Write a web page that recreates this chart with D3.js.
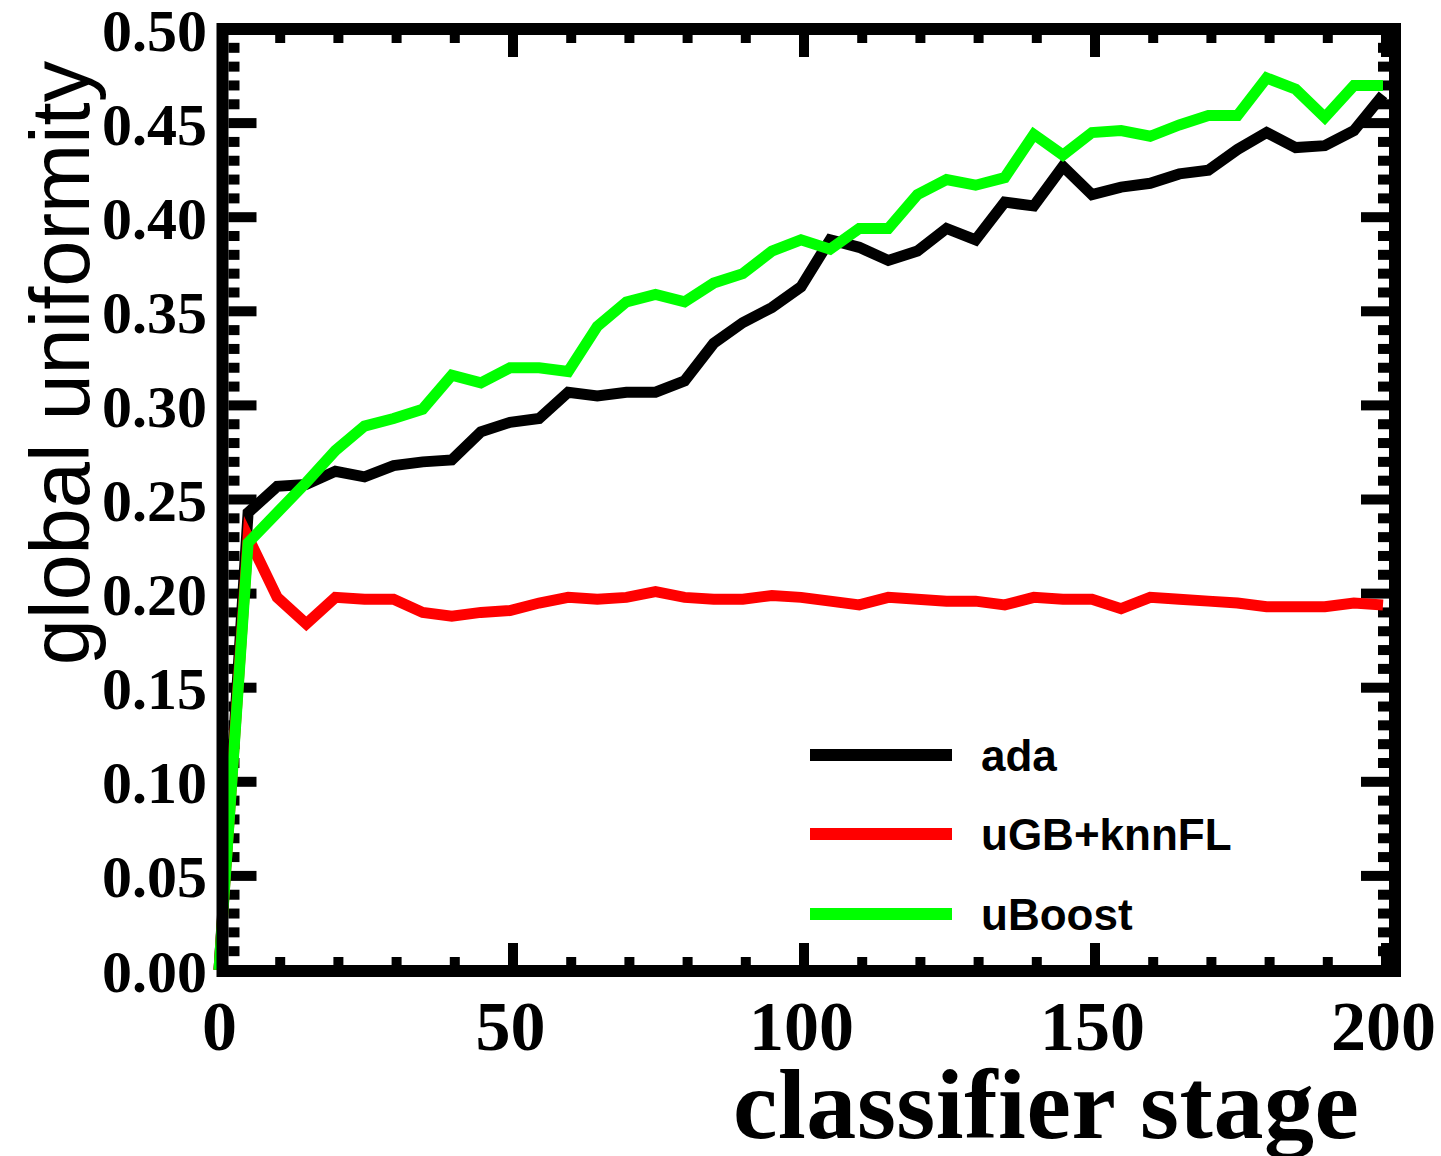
<!DOCTYPE html>
<html>
<head>
<meta charset="utf-8">
<script src="https://cdn.jsdelivr.net/npm/d3@7"></script>
<style>
  html, body { margin: 0; padding: 0; background: #fff; }
  svg { display: block; }
</style>
</head>
<body>
<svg id="chart" width="1441" height="1156"></svg>
<script>
// Classifier stage (boosting iteration) sampled every 5 stages
const stages = [0, 5, 10, 15, 20, 25, 30, 35, 40, 45, 50, 55, 60, 65, 70, 75, 80, 85, 90, 95, 100,
                105, 110, 115, 120, 125, 130, 135, 140, 145, 150, 155, 160, 165, 170, 175, 180, 185, 190, 195, 200];

// Global uniformity per classifier
const ada = [0, 0.243, 0.257, 0.258, 0.265, 0.262, 0.268, 0.270, 0.271, 0.286, 0.291, 0.293, 0.307, 0.305,
             0.307, 0.307, 0.313, 0.333, 0.344, 0.352, 0.363, 0.388, 0.384, 0.377, 0.382, 0.394, 0.388, 0.408,
             0.406, 0.427, 0.412, 0.416, 0.418, 0.423, 0.425, 0.436, 0.445, 0.437, 0.438, 0.446, 0.465];
const ugbKnnFL = [0, 0.230, 0.198, 0.184, 0.198, 0.197, 0.197, 0.190, 0.188, 0.190, 0.191, 0.195, 0.198, 0.197,
                  0.198, 0.201, 0.198, 0.197, 0.197, 0.199, 0.198, 0.196, 0.194, 0.198, 0.197, 0.196, 0.196, 0.194,
                  0.198, 0.197, 0.197, 0.192, 0.198, 0.197, 0.196, 0.195, 0.193, 0.193, 0.193, 0.195, 0.194];
const uBoost = [0, 0.227, 0.243, 0.259, 0.276, 0.289, 0.293, 0.298, 0.316, 0.312, 0.320, 0.320, 0.318, 0.342,
                0.355, 0.359, 0.355, 0.365, 0.370, 0.382, 0.388, 0.383, 0.394, 0.394, 0.412, 0.420, 0.417, 0.421,
                0.444, 0.433, 0.445, 0.446, 0.443, 0.449, 0.454, 0.454, 0.474, 0.468, 0.453, 0.470, 0.470];

const seriesNames = ["ada", "uGB+knnFL", "uBoost"];
const seriesColors = ["#000000", "#ff0000", "#00ff00"];
const xTickValues = [0, 50, 100, 150, 200];
const yTickValues = [0, 0.05, 0.10, 0.15, 0.20, 0.25, 0.30, 0.35, 0.40, 0.45, 0.50];

const svg = d3.select("#chart");

const x = d3.scaleLinear().domain([0, 200]).range([219, 1383]);
const y = d3.scaleLinear().domain([0, 0.5]).range([970, 29]);

const frame = { left: 222.5, right: 1395, top: 29, bottom: 971, width: 12 };

// Tick marks (thick, inside the frame on all four sides)
const ticksG = svg.append("g").attr("stroke", "#000").attr("stroke-width", 10);
const inner = frame.width / 2;

// horizontal axis ticks every 10 stages
x.ticks(20).forEach(v => {
  const major = v % 50 === 0;
  const len = major ? 22 : 8;
  const px = x(v) + 3;
  ticksG.append("line").attr("x1", px).attr("x2", px)
    .attr("y1", frame.bottom - inner).attr("y2", frame.bottom - inner - len);
  ticksG.append("line").attr("x1", px).attr("x2", px)
    .attr("y1", frame.top + inner).attr("y2", frame.top + inner + len);
});

// vertical axis ticks every 0.01
y.ticks(50).forEach(v => {
  const major = Math.abs(Math.round(v * 100) % 5) === 0;
  const len = major ? 28 : 11;
  const py = y(v);
  ticksG.append("line").attr("y1", py).attr("y2", py)
    .attr("x1", frame.left + inner).attr("x2", frame.left + inner + len);
  ticksG.append("line").attr("y1", py).attr("y2", py)
    .attr("x1", frame.right - inner).attr("x2", frame.right - inner - len);
});

// Series lines
const line = d3.line().x((d, i) => x(stages[i])).y(d => y(d));
const allSeries = [ada, ugbKnnFL, uBoost];
svg.append("g").selectAll("path")
  .data(allSeries)
  .join("path")
  .attr("d", d => line(d))
  .attr("fill", "none")
  .attr("stroke", (d, i) => seriesColors[i])
  .attr("stroke-width", 11)
  .attr("stroke-linejoin", "miter")
  .attr("stroke-linecap", "butt");

// Frame box
svg.append("rect")
  .attr("x", frame.left).attr("y", frame.top)
  .attr("width", frame.right - frame.left).attr("height", frame.bottom - frame.top)
  .attr("fill", "none").attr("stroke", "#000").attr("stroke-width", frame.width);

// Axis labels
const yAxis = d3.axisLeft(y).tickValues(yTickValues).tickFormat(d3.format(".2f")).tickSize(0).tickPadding(0);
const yAxisG = svg.append("g").attr("transform", "translate(207,0)").call(yAxis);
yAxisG.select(".domain").remove();
yAxisG.selectAll("text")
  .attr("font-family", "'Liberation Serif', 'Times New Roman', serif")
  .attr("font-weight", "bold").attr("font-size", 60)
  .attr("fill", "#000").attr("dy", 21);

const xAxis = d3.axisBottom(x).tickValues(xTickValues).tickFormat(d3.format("d")).tickSize(0).tickPadding(0);
const xAxisG = svg.append("g").attr("transform", "translate(0,1050)").call(xAxis);
xAxisG.select(".domain").remove();
xAxisG.selectAll("text")
  .attr("font-family", "'Liberation Serif', 'Times New Roman', serif")
  .attr("font-weight", "bold").attr("font-size", 70)
  .attr("fill", "#000").attr("dy", 0).attr("y", 0);

// Axis titles
svg.append("text")
  .attr("x", 733).attr("y", 1138)
  .attr("font-family", "'Liberation Serif', 'Times New Roman', serif")
  .attr("font-weight", "bold").attr("font-size", 100)
  .attr("textLength", 626)
  .attr("fill", "#000")
  .text("classifier stage");

svg.append("text")
  .attr("transform", "translate(89,363) rotate(-90)")
  .attr("text-anchor", "middle")
  .attr("font-family", "'Liberation Sans', Arial, Helvetica, sans-serif")
  .attr("font-size", 83)
  .attr("fill", "#000")
  .text("global uniformity");

// Legend
const legend = svg.append("g");
const legendY = [755, 834, 914];
seriesNames.forEach((name, i) => {
  legend.append("line")
    .attr("x1", 810).attr("x2", 952)
    .attr("y1", legendY[i]).attr("y2", legendY[i])
    .attr("stroke", seriesColors[i]).attr("stroke-width", 12);
  legend.append("text")
    .attr("x", 981).attr("y", legendY[i] + 16)
    .attr("font-family", "'Liberation Sans', Arial, Helvetica, sans-serif")
    .attr("font-weight", "bold").attr("font-size", 44)
    .attr("fill", "#000")
    .text(name);
});
</script>
</body>
</html>
